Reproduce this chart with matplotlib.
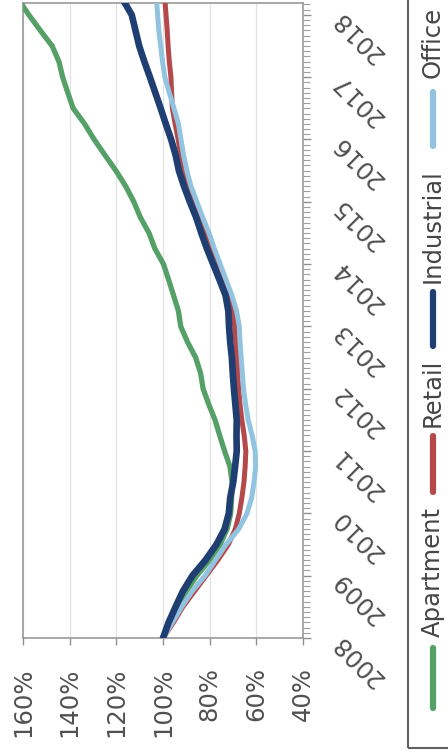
import matplotlib
matplotlib.use("Agg")
import matplotlib.pyplot as plt
from matplotlib.lines import Line2D
from matplotlib.patches import Rectangle

# quarterly index levels, 2008 = 100% (chart is printed turned on its side)
quarters = [2008.00, 2008.25, 2008.50, 2008.75, 2009.00, 2009.25, 2009.50, 2009.75,
            2010.00, 2010.25, 2010.50, 2010.75, 2011.00, 2011.25, 2011.50, 2011.75,
            2012.00, 2012.25, 2012.50, 2012.75, 2013.00, 2013.25, 2013.50, 2013.75,
            2014.00, 2014.25, 2014.50, 2014.75, 2015.00, 2015.25, 2015.50, 2015.75,
            2016.00, 2016.25, 2016.50, 2016.75, 2017.00, 2017.25, 2017.50, 2017.75,
            2018.00, 2018.25]

apartment = [100, 97.0, 93.8, 90.0, 85.5, 80.0, 75.5, 72.5, 71.0, 70.6,
             70.4, 71.3, 73.6, 75.7, 77.7, 80.4, 82.8, 83.9, 86.0, 89.5,
             92.4, 93.4, 95.5, 97.6, 99.8, 103.5, 106.0, 109.7, 112.5, 116.0,
             120.2, 124.9, 129.5, 133.6, 138.5, 140.8, 143.0, 144.6, 147.5, 152.6,
             157.5, 162.0]
retail = [100, 95.5, 91.5, 86.5, 81.5, 76.5, 72.0, 69.0, 67.3, 66.2,
          65.3, 64.8, 64.5, 65.2, 66.2, 67.0, 67.6, 68.0, 68.3, 68.8,
          69.3, 70.0, 71.5, 74.0, 76.8, 79.5, 82.0, 84.3, 87.0, 89.5,
          91.3, 92.5, 93.5, 94.8, 96.0, 96.3, 96.6, 97.3, 97.8, 98.2,
          98.7, 99.2]
industrial = [100, 97.6, 94.6, 91.5, 87.4, 81.8, 77.1, 73.6, 71.8, 71.2,
              69.9, 69.1, 68.4, 68.5, 68.4, 69.0, 69.6, 70.1, 70.5, 71.2,
              71.7, 72.0, 73.2, 75.8, 78.5, 81.2, 83.6, 85.8, 88.5, 91.0,
              93.2, 94.6, 96.5, 98.8, 101.0, 103.3, 105.6, 108.0, 110.2, 111.8,
              113.4, 117.3]
office = [100, 96.0, 92.0, 87.5, 82.0, 77.5, 73.0, 67.5, 64.0, 62.0,
          61.0, 60.3, 60.5, 61.8, 63.5, 64.6, 65.5, 66.0, 66.5, 67.0,
          67.3, 68.5, 70.5, 73.0, 75.5, 78.0, 80.3, 83.0, 85.5, 88.0,
          89.8, 91.2, 92.3, 93.4, 95.3, 97.3, 99.2, 100.2, 101.0, 101.8,
          102.3, 102.8]

pct_ticks = [160, 140, 120, 100, 80, 60, 40]
year_ticks = [2008, 2009, 2010, 2011, 2012, 2013, 2014, 2015, 2016, 2017, 2018]

series = [
    ("Apartment", apartment, "#55a066", 3.8),
    ("Retail", retail, "#b5484a", 3.6),
    ("Office", office, "#92c3e0", 3.6),
    ("Industrial", industrial, "#1f3f72", 4.8),
]
legend_order = ["Apartment", "Retail", "Industrial", "Office"]

W, H = 448, 753
TXT = "#505050"
FS = 17.5

fig = plt.figure(figsize=(W / 100, H / 100), dpi=100)
ax = fig.add_axes([23 / W, 1 - 638 / H, 280 / W, 635 / H])

for name, vals, color, lw in series:
    ax.plot(vals, quarters, color=color, linewidth=lw, solid_capstyle="round",
            solid_joinstyle="round", zorder=3)

ax.set_xlim(160, 40)
ax.set_ylim(2008, 2018.19)

ax.set_xticks(pct_ticks)
ax.set_xticklabels([f"{v}%" for v in pct_ticks], rotation=90)
ax.tick_params(axis="x", direction="out", length=5, width=1, color="#909090",
               pad=16, labelsize=FS, labelcolor=TXT)
ax.grid(axis="x", color="#e3e3e3", linewidth=0.9)

# year axis sits on the right; labels upside-down at 45 degrees like the scan
ax.yaxis.tick_right()
ax.set_yticks(year_ticks)
ax.set_yticklabels([str(y) for y in year_ticks], rotation=135,
                   rotation_mode="anchor", ha="right", va="center")
months = [2008 + m / 12 for m in range(0, 123)]
ax.set_yticks(months, minor=True)
ax.tick_params(axis="y", which="major", direction="out", length=6, width=1,
               color="#909090", pad=18, labelsize=FS, labelcolor=TXT)
ax.tick_params(axis="y", which="minor", direction="out", length=5, width=0.8,
               color="#a0a0a0")

for side in ["left", "top", "bottom", "right"]:
    ax.spines[side].set_color("#9a9a9a")
    ax.spines[side].set_linewidth(1.2)


# legend, turned sideways like the rest of the chart
def fx(px):
    return px / W


def fy(py):
    return 1 - py / H


fig.add_artist(Rectangle((fx(408), fy(748)), 1, 1.2, transform=fig.transFigure,
                         fill=False, edgecolor="#606060", linewidth=1.5, clip_on=False))

legend_pos = {
    "Apartment": (708, 648, 637),
    "Retail": (492, 436, 427),
    "Industrial": (346, 292, 283),
    "Office": (146, 92, 78),
}
colors = {name: c for name, _, c, _ in series}
for name in legend_order:
    y0, y1, ytxt = legend_pos[name]
    fig.add_artist(Line2D([fx(433), fx(433)], [fy(y0), fy(y1)], transform=fig.transFigure,
                          color=colors[name], linewidth=4.5, solid_capstyle="round"))
    fig.text(fx(433), fy(ytxt), name, rotation=90, ha="center", va="bottom",
             fontsize=FS, color="#454545")

fig.savefig("out.png", dpi=100)
